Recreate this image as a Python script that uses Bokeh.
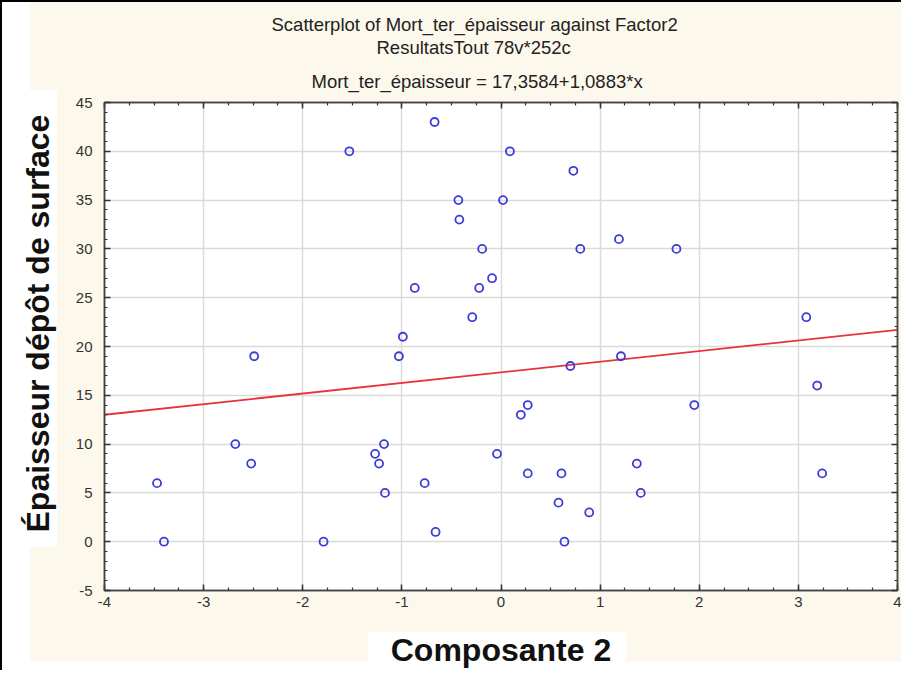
from bokeh.plotting import figure
from bokeh.models import (LinearAxis, SingleIntervalTicker, Range1d,
                          CustomJSTickFormatter, Title)
from bokeh.embed import file_html
from bokeh.resources import INLINE

# ---------------- data ----------------
composante2 = [-3.47, -3.40, -2.68, -2.52, -2.49, -1.79, -1.53, -1.27, -1.23, -1.18,
               -1.17, -1.03, -0.99, -0.87, -0.77, -0.67, -0.66, -0.43, -0.42, -0.29,
               -0.22, -0.19, -0.09, -0.04, 0.02, 0.09, 0.20, 0.27, 0.27, 0.58,
               0.61, 0.64, 0.70, 0.73, 0.80, 0.89, 1.19, 1.21, 1.37, 1.41,
               1.77, 1.95, 3.08, 3.19, 3.24]
epaisseur = [6, 0, 10, 8, 19, 0, 40, 9, 8, 10,
             5, 19, 21, 26, 6, 43, 1, 35, 33, 23,
             26, 30, 27, 9, 35, 40, 13, 14, 7, 4,
             7, 0, 18, 38, 30, 3, 31, 19, 8, 5,
             30, 14, 23, 16, 7]
intercept = 17.3584
slope = 1.0883
x_limits = [-4, 4]
y_limits = [-5, 45]
title_lines = ["Scatterplot of Mort_ter_épaisseur against Factor2",
               "ResultatsTout 78v*252c",
               "Mort_ter_épaisseur = 17,3584+1,0883*x"]
x_label = "Composante 2"
y_label = "Épaisseur dépôt de surface"

# ---------------- style ----------------
CREAM = "#FDF8EC"
FONT = "Liberation Sans"
W, H = 901, 670
FL, FR, FT, FB = 103, 897, 102, 590   # frame box in figure pixels

# page decoration painted by CSS behind a transparent canvas border
bg_layers = [
    "linear-gradient(#000,#000) 0px 0px / 2px 100% no-repeat",
    "linear-gradient(#000,#000) 0px 0px / 100% 2px no-repeat",
    "linear-gradient(#fff,#fff) 0px 90px / 57px 457px no-repeat",
    "linear-gradient(#fff,#fff) 368px 632px / 258px 38px no-repeat",
    f"linear-gradient({CREAM},{CREAM}) 30px 1px / 871px 661px no-repeat",
    "#ffffff",
]

p = figure(width=W, height=H, output_backend="svg", toolbar_location=None,
           x_range=Range1d(*x_limits), y_range=Range1d(*y_limits),
           min_border_left=FL, min_border_right=W - FR, min_border_top=FT,
           min_border_bottom=H - FB,
           background_fill_color="white", border_fill_color=CREAM,
           border_fill_alpha=0.0,
           outline_line_color="#444444", outline_line_width=1.5,
           styles={"background": ", ".join(bg_layers)})

xt = SingleIntervalTicker(interval=1, num_minor_ticks=4)
yt = SingleIntervalTicker(interval=5, num_minor_ticks=5)
plain_fmt = CustomJSTickFormatter(code="return String(tick);")
empty_fmt = CustomJSTickFormatter(code="return '';")

def style_axis(ax, show_labels):
    ax.axis_line_color = "#444444"
    ax.axis_line_width = 1.5
    ax.major_tick_in = 6
    ax.major_tick_out = 0
    ax.minor_tick_in = 3
    ax.minor_tick_out = 0
    ax.major_tick_line_color = "#333333"
    ax.minor_tick_line_color = "#333333"
    ax.major_tick_line_width = 1.5
    ax.minor_tick_line_width = 1.2
    if show_labels:
        ax.formatter = plain_fmt
        ax.major_label_text_font = FONT
        ax.major_label_text_font_size = "15px"
        ax.major_label_text_color = "#333333"
        ax.axis_label_text_font = FONT
        ax.axis_label_text_font_size = "32px"
        ax.axis_label_text_font_style = "bold"
        ax.axis_label_text_color = "#111111"
    else:
        ax.formatter = empty_fmt
        ax.major_label_standoff = 0

p.xaxis.ticker = xt
p.yaxis.ticker = yt
style_axis(p.xaxis[0], True)
style_axis(p.yaxis[0], True)
p.xaxis.major_label_standoff = 6
p.yaxis.major_label_standoff = 12
p.xaxis.axis_label = x_label
p.xaxis.axis_label_standoff = 22

ax_top = LinearAxis(ticker=xt)
ax_right = LinearAxis(ticker=yt)
style_axis(ax_top, False)
style_axis(ax_right, False)
p.add_layout(ax_top, "above")
p.add_layout(ax_right, "right")

# title lines: added innermost first; offsets put them where the reference has them
title_offsets = [167, 272, 207]
title_standoffs = [0, 0, 22]
for txt, off, so in reversed(list(zip(title_lines, title_offsets, title_standoffs))):
    p.add_layout(Title(text=txt, text_font=FONT, text_font_size="18.5px",
                       text_font_style="normal", text_color="#222222",
                       align="left", offset=off, standoff=so), "above")

# y-axis title, shifted along the axis like in the reference
p.add_layout(Title(text=y_label, text_font=FONT, text_font_size="32px",
                   text_font_style="bold", text_color="#111111",
                   align="left", offset=58, standoff=34), "left")

p.grid.grid_line_color = "#DADADA"
p.grid.grid_line_width = 1.5

# ---------------- data marks ----------------
p.line(x=x_limits, y=[intercept + slope * v for v in x_limits],
       line_color="#E8323C", line_width=1.8)
p.scatter(x=composante2, y=epaisseur, marker="circle", size=8,
          fill_color=None, line_color="#3C3CD6", line_width=1.8)

open("out.html", "w").write(file_html(p, INLINE))
